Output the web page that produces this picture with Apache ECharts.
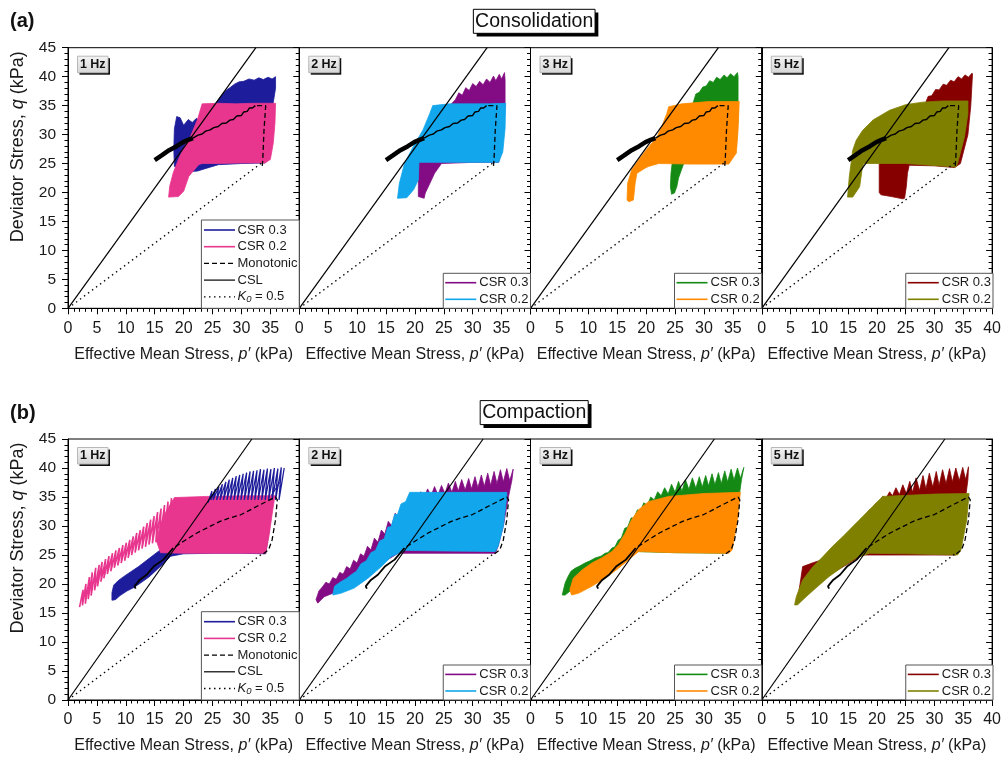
<!DOCTYPE html>
<html>
<head>
<meta charset="utf-8">
<script src="https://cdn.jsdelivr.net/npm/echarts@6/dist/echarts.min.js"></script>
<style>
html,body{margin:0;padding:0;background:#fff;}
#chart{width:1004px;height:761px;}
</style>
</head>
<body>
<div id="chart"></div>
<script>
// ---------- data (p', q in kPa) ----------
const FREQS = ['1 Hz', '2 Hz', '3 Hz', '5 Hz'];
const ROW_TITLES = ['Consolidation', 'Compaction'];
const ROW_TAGS = ['(a)', '(b)'];
const X_TICKS = [0, 5, 10, 15, 20, 25, 30, 35, 40];
const Y_TICKS = [0, 5, 10, 15, 20, 25, 30, 35, 40, 45];

const COLOR_CSR03 = ['#1d1d9c', '#830b83', '#148a14', '#860000'];
const COLOR_CSR02 = ['#e8368f', '#12a6ec', '#ff8a00', '#808000'];

// reference lines
const cslCons = [[0, 0], [32.5, 45]];
const cslComp = [[0, 0], [31.8, 45]];
const k0Cons = [[0, 0], [33.5, 25.1]];
const k0Comp = [[0, 0], [33.7, 25.3]];

// monotonic path, consolidated specimens
const consMonoDash = [[33.6, 24.6], [33.7, 25.9], [33.9, 30.7], [34.2, 35.0], [32.4, 35.0]];
const consMonoStep = [[32.4, 35.0], [31.9, 34.6], [31.4, 34.6], [31.0, 34.0], [30.4, 33.9], [30.0, 33.3],
  [29.2, 33.2], [28.6, 32.6], [28.0, 32.5], [27.4, 32.0], [26.6, 31.9], [26.0, 31.4], [25.2, 31.2],
  [24.6, 30.8], [23.8, 30.6], [23.2, 30.1], [22.5, 29.9], [21.6, 29.4]];
const consMonoTail = [[21.6, 29.4], [20.8, 29.1], [19.9, 28.7], [18.8, 28.0], [17.5, 27.3], [16.2, 26.4], [15.0, 25.6]];

// monotonic path, compacted specimens
const compMonoDash = [[33.8, 25.2], [34.7, 25.9], [35.3, 27.6], [35.9, 31.1], [36.2, 34.5], [35.9, 35.0],
  [34.3, 34.2], [32.7, 33.4], [31.2, 32.6], [29.8, 31.9], [28.0, 31.4], [26.3, 30.8], [24.3, 29.8],
  [22.3, 28.8], [20.2, 27.5], [18.2, 26.2]];
const compMonoSolid = [[18.2, 26.2], [16.5, 24.2], [14.8, 23.0], [13.6, 21.6], [12.4, 20.7], [11.9, 20.1],
  [11.5, 19.6], [11.7, 19.2]];

// cyclic stress-path envelopes, consolidated specimens
const cons1Hz_csr03 = [[35.9, 40.0], [35.3, 39.6], [34.6, 39.9], [33.8, 39.5], [33.0, 39.8], [32.2, 39.4],
  [31.3, 39.6], [30.4, 39.2], [29.6, 39.1], [28.8, 38.7], [28.0, 38.1], [27.3, 37.6], [26.6, 36.8],
  [26.0, 36.0], [25.4, 35.2], [24.5, 34.4], [23.6, 33.4], [22.8, 32.4], [22.2, 32.8], [21.5, 32.1],
  [20.8, 32.6], [20.0, 31.6], [19.4, 32.9], [18.8, 33.1], [18.4, 31.0], [18.3, 27.5], [18.4, 24.5],
  [19.5, 23.9], [21.0, 23.6], [22.4, 23.7], [24.0, 24.2], [26.0, 24.8], [30.0, 25.0], [34.1, 25.1],
  [34.8, 28.0], [35.2, 31.0], [35.5, 35.5], [35.9, 38.0]];
const cons1Hz_csr02 = [[23.2, 35.3], [26.0, 35.4], [29.0, 35.3], [32.0, 35.4], [35.9, 35.4], [35.8, 32.0],
  [35.5, 28.5], [35.0, 25.7], [34.1, 25.1], [30.0, 25.1], [26.0, 25.0], [23.2, 25.0], [22.6, 24.8],
  [20.9, 22.8], [20.0, 20.2], [19.1, 19.3], [17.4, 19.2], [17.6, 21.1], [18.2, 23.4], [19.1, 25.7],
  [20.0, 27.7], [21.2, 29.7], [22.4, 32.6]];

const cons2Hz_csr03 = [[35.5, 40.7], [35.0, 39.6], [34.6, 40.4], [34.0, 39.3], [33.6, 40.1], [33.0, 39.0],
  [32.4, 39.6], [31.8, 38.6], [31.2, 39.2], [30.6, 38.3], [30.0, 38.8], [29.4, 37.6], [28.8, 38.1],
  [28.2, 36.8], [27.6, 37.2], [27.0, 36.0], [26.4, 35.4], [24.5, 33.0], [22.5, 30.0], [21.0, 27.0],
  [20.6, 25.0], [20.6, 19.3], [21.6, 19.0], [21.8, 19.9], [22.6, 21.6], [23.4, 23.3], [24.6, 25.0],
  [30.0, 25.2], [34.5, 25.2], [35.3, 30.0], [35.6, 35.0], [35.6, 39.5]];
const cons2Hz_csr02 = [[23.1, 35.0], [26.0, 35.3], [30.0, 35.3], [33.0, 35.3], [35.7, 35.4], [35.6, 31.0],
  [35.2, 27.0], [34.5, 25.2], [30.0, 25.2], [25.0, 25.2], [20.7, 25.2], [20.6, 22.2], [19.8, 20.5],
  [18.6, 19.1], [17.0, 19.0], [17.3, 21.5], [18.2, 25.0], [19.7, 27.9], [21.4, 30.8], [22.6, 33.7]];

const cons3Hz_csr03 = [[35.8, 40.7], [35.2, 40.0], [34.6, 40.5], [34.0, 39.8], [33.5, 40.3], [32.8, 39.5],
  [32.2, 39.9], [31.6, 39.0], [31.0, 39.3], [30.4, 38.4], [29.8, 38.2], [29.2, 37.3], [28.6, 37.0],
  [28.2, 35.7], [26.5, 32.0], [25.0, 28.0], [24.5, 25.0], [24.3, 23.3], [24.2, 21.0], [24.4, 19.7],
  [24.9, 19.9], [25.3, 21.0], [25.6, 22.5], [26.1, 23.9], [26.5, 25.0], [30.0, 25.0], [34.3, 25.0],
  [35.6, 28.0], [35.9, 33.0], [35.9, 40.0]];
const cons3Hz_csr02 = [[23.9, 34.8], [26.2, 35.3], [30.8, 35.7], [36.1, 35.7], [35.9, 30.8], [35.6, 26.8],
  [34.3, 24.9], [30.0, 24.9], [27.8, 24.9], [22.2, 25.0], [20.4, 24.5], [19.8, 24.2], [18.4, 23.3],
  [18.1, 21.6], [17.8, 18.7], [17.0, 18.4], [16.7, 18.7], [16.8, 21.6], [17.5, 23.9], [18.7, 25.6],
  [19.6, 26.8], [20.7, 28.2], [21.9, 29.6], [22.7, 31.4], [23.6, 33.7]];

const cons5Hz_csr03 = [[36.5, 40.6], [35.9, 39.9], [35.3, 40.3], [34.7, 39.6], [34.1, 40.0], [33.4, 39.1],
  [32.8, 39.4], [32.1, 38.5], [31.5, 38.7], [30.8, 37.7], [30.2, 37.8], [29.5, 36.7], [28.9, 36.6],
  [28.5, 35.6], [26.0, 32.0], [22.0, 27.0], [20.4, 25.0], [20.4, 20.0], [20.7, 19.6], [22.5, 19.3],
  [24.5, 18.9], [24.8, 19.0], [25.1, 21.0], [25.3, 23.3], [25.6, 24.7], [30.0, 24.6], [33.5, 24.3],
  [34.5, 25.0], [35.8, 30.0], [36.3, 35.0], [36.6, 40.5]];
const cons5Hz_csr02 = [[35.8, 35.8], [31.4, 35.8], [28.0, 35.6], [25.1, 35.2], [22.2, 34.2], [19.3, 32.5],
  [17.5, 30.7], [16.4, 29.0], [15.8, 27.3], [15.5, 25.0], [15.2, 22.7], [14.9, 19.2], [15.8, 19.2],
  [17.0, 21.0], [17.4, 23.8], [17.7, 25.0], [25.0, 25.0], [33.7, 24.4], [34.0, 25.0], [35.2, 29.6],
  [35.8, 33.6]];

// cyclic stress-path envelopes, compacted specimens
const comp1Hz_csr03 = [[36.6, 37.5], [35.0, 35.0], [30.0, 35.0], [25.0, 35.0], [23.0, 34.0], [20.5, 31.0],
  [18.8, 28.5], [17.3, 27.0], [16.0, 25.9], [14.8, 25.0], [13.5, 24.0], [12.2, 23.0], [11.0, 22.2],
  [9.8, 21.4], [8.7, 20.6], [7.9, 19.8], [7.6, 18.5], [7.6, 17.2], [8.2, 17.3], [9.0, 18.0],
  [10.2, 18.8], [11.4, 19.4], [12.6, 20.2], [14.0, 21.2], [15.2, 22.3], [16.5, 23.5], [17.8, 24.8],
  [20.0, 25.2], [25.0, 25.3], [30.0, 25.3], [34.2, 25.2], [34.8, 29.3], [35.1, 35.1]];
// individual load cycles above the CSR 0.2 band (1 Hz, compacted)
const comp1Hz_csr03_cycles = [[37.4, 40.0], [36.5, 34.5], [36.9, 40.1], [35.9, 34.5], [36.3, 39.9],
  [35.3, 34.5], [35.7, 40.0], [34.7, 34.5], [35.1, 39.8], [34.1, 34.5], [34.5, 39.9], [33.5, 34.5],
  [33.9, 39.7], [32.9, 34.5], [33.3, 39.8], [32.3, 34.5], [32.7, 39.6], [31.7, 34.5], [32.1, 39.5],
  [31.1, 34.5], [31.5, 39.4], [30.5, 34.5], [30.9, 39.2], [29.9, 34.5], [30.3, 39.0], [29.3, 34.5],
  [29.7, 38.8], [28.7, 34.5], [29.1, 38.6], [28.1, 34.5], [28.5, 38.3], [27.5, 34.5], [27.9, 38.0],
  [26.9, 34.5], [27.3, 37.6], [26.3, 34.5], [26.7, 37.2], [25.7, 34.5], [26.1, 36.8], [25.1, 34.5],
  [25.5, 36.4], [24.7, 34.5], [24.9, 36.0], [24.2, 34.0]];
const comp1Hz_csr02 = [[36.0, 35.2], [30.0, 35.2], [24.0, 35.1], [18.4, 34.9], [17.0, 32.6], [15.9, 30.0],
  [15.3, 27.4], [16.0, 25.4], [20.0, 25.3], [25.0, 25.3], [30.0, 25.3], [34.2, 25.3], [34.8, 28.5],
  [35.3, 32.0], [35.7, 34.6]];
// individual load cycles at low p' (1 Hz, compacted)
const comp1Hz_csr02_cycles = [[2.0, 16.0], [2.6, 19.0], [2.5, 16.3], [3.1, 20.0], [3.0, 16.6], [3.7, 21.2],
  [3.5, 17.4], [4.2, 22.0], [4.0, 18.0], [4.8, 22.8], [4.6, 18.9], [5.4, 23.3], [5.1, 19.6], [5.9, 23.8],
  [5.7, 20.4], [6.5, 24.3], [6.2, 21.0], [7.1, 24.8], [6.8, 21.7], [7.7, 25.3], [7.4, 22.2], [8.3, 25.8],
  [8.0, 22.8], [8.9, 26.2], [8.6, 23.2], [9.5, 26.7], [9.2, 23.6], [10.1, 27.1], [9.8, 24.0], [10.7, 27.6],
  [10.4, 24.5], [11.3, 28.2], [11.0, 25.0], [11.9, 28.8], [11.6, 25.4], [12.5, 29.3], [12.2, 25.8],
  [13.1, 29.9], [12.8, 26.1], [13.7, 30.5], [13.4, 26.4], [14.3, 31.1], [14.0, 26.8], [14.9, 31.7],
  [14.6, 27.0], [15.5, 32.4], [15.2, 27.2], [16.1, 33.0], [15.8, 27.0], [16.7, 33.6], [16.4, 26.5],
  [17.3, 34.2], [17.0, 26.0], [17.9, 34.8]];

const comp2Hz_csr03 = [[37.0, 39.8], [36.4, 37.8], [35.9, 39.9], [35.3, 37.6], [34.8, 39.7], [34.2, 37.3],
  [33.7, 39.4], [33.1, 37.0], [32.6, 39.1], [32.0, 36.8], [31.5, 38.8], [30.9, 36.6], [30.4, 38.5],
  [29.8, 36.4], [29.3, 38.2], [28.7, 36.2], [28.1, 38.0], [27.5, 36.0], [27.0, 37.7], [26.4, 35.8],
  [25.8, 37.4], [25.2, 35.6], [24.6, 37.0], [24.0, 35.3], [23.4, 36.8], [22.8, 35.2], [22.2, 36.4],
  [21.6, 34.8], [21.0, 35.9], [20.4, 34.2], [19.9, 35.2], [19.3, 33.4], [18.8, 34.3], [18.2, 32.5],
  [17.7, 33.4], [17.1, 31.4], [16.6, 32.2], [16.0, 30.0], [15.4, 30.8], [14.8, 28.6], [14.2, 29.3],
  [13.6, 27.2], [13.0, 27.9], [12.4, 25.9], [11.8, 26.5], [11.2, 24.8], [10.6, 25.2], [10.0, 23.6],
  [9.4, 24.1], [8.8, 22.6], [8.2, 23.0], [7.6, 21.7], [7.0, 22.0], [6.4, 20.8], [5.8, 21.1],
  [5.2, 20.0], [4.6, 20.3], [4.0, 19.5], [3.4, 18.8], [2.9, 17.3], [3.2, 16.7], [4.3, 17.8],
  [5.8, 18.4], [7.8, 19.3], [10.7, 20.7], [13.0, 22.4], [15.3, 24.2], [17.1, 25.3], [25.0, 25.3],
  [33.9, 25.3], [34.4, 26.5], [35.3, 30.0], [36.2, 35.1], [36.8, 38.0]];
const comp2Hz_csr02 = [[35.9, 35.8], [30.0, 35.8], [25.0, 35.8], [19.1, 35.8], [18.4, 34.2], [17.6, 33.8],
  [17.0, 32.0], [16.5, 32.0], [15.9, 29.9], [15.3, 29.8], [14.7, 27.8], [13.9, 27.4], [13.2, 25.8],
  [12.4, 25.4], [11.6, 24.0], [10.7, 23.5], [9.9, 22.2], [9.0, 21.6], [8.1, 20.9], [7.2, 20.4],
  [6.5, 19.9], [6.1, 19.6], [5.8, 18.1], [7.2, 18.4], [9.5, 19.3], [11.9, 21.0], [14.2, 23.0],
  [15.9, 24.7], [18.2, 25.8], [25.0, 25.7], [33.9, 25.6], [34.4, 26.5], [35.3, 29.9], [35.9, 35.1]];

const comp3Hz_csr03 = [[36.9, 40.1], [36.3, 38.2], [35.8, 40.0], [35.2, 37.9], [34.7, 39.8], [34.1, 37.6],
  [33.6, 39.5], [33.0, 37.3], [32.5, 39.2], [31.9, 37.1], [31.4, 39.0], [30.8, 36.9], [30.3, 38.7],
  [29.7, 36.7], [29.2, 38.5], [28.6, 36.5], [28.0, 38.3], [27.4, 36.3], [26.8, 38.0], [26.2, 36.0],
  [25.6, 37.7], [25.0, 35.8], [24.4, 37.2], [23.8, 35.5], [23.2, 36.6], [22.6, 35.2], [22.0, 35.9],
  [21.4, 34.5], [20.8, 35.0], [20.2, 33.6], [19.6, 34.0], [19.0, 32.6], [18.5, 32.8], [17.9, 31.4],
  [17.4, 31.4], [16.8, 29.8], [16.3, 29.6], [15.7, 27.9], [15.2, 27.6], [14.6, 26.4], [14.1, 26.2],
  [13.4, 25.4], [12.9, 25.3], [12.2, 24.8], [11.2, 24.5], [10.3, 24.0], [9.4, 23.6], [8.5, 23.1],
  [7.7, 22.7], [7.0, 22.2], [6.5, 21.3], [6.0, 20.2], [5.7, 19.0], [5.5, 18.1], [6.0, 18.1],
  [7.1, 19.0], [8.9, 20.1], [10.6, 21.3], [12.3, 22.4], [14.6, 23.9], [16.4, 25.0], [18.1, 25.6],
  [25.0, 25.4], [33.7, 25.3], [34.6, 25.9], [35.4, 30.0], [36.0, 34.5], [36.5, 38.0]];
const comp3Hz_csr02 = [[36.3, 35.8], [30.0, 35.6], [23.9, 35.1], [20.4, 34.2], [18.7, 32.8], [17.5, 31.1],
  [16.4, 28.8], [15.2, 26.8], [14.1, 25.6], [12.3, 24.5], [10.6, 23.6], [8.9, 22.4], [7.4, 21.0],
  [6.8, 19.0], [7.1, 18.1], [8.3, 18.4], [10.6, 19.6], [12.9, 21.0], [15.2, 22.7], [17.0, 24.2],
  [18.7, 25.6], [25.0, 25.4], [34.3, 25.3], [34.9, 25.9], [35.8, 31.1]];

const comp5Hz_csr03 = [[35.9, 40.2], [35.4, 38.0], [34.9, 40.1], [34.3, 37.8], [33.7, 40.0], [33.1, 37.6],
  [32.6, 39.9], [32.0, 37.3], [31.4, 39.7], [30.8, 37.0], [30.3, 39.4], [29.7, 36.7], [29.1, 39.1],
  [28.5, 36.4], [28.0, 38.7], [27.4, 36.1], [26.8, 38.3], [26.2, 35.8], [25.7, 37.7], [25.1, 35.6],
  [24.5, 37.1], [23.9, 35.4], [23.3, 36.6], [22.7, 35.2], [22.2, 35.9], [21.6, 34.8], [21.0, 35.1],
  [20.4, 34.0], [19.8, 33.9], [19.2, 32.8], [18.7, 32.8], [17.0, 30.5], [15.0, 28.3], [13.0, 26.2],
  [11.6, 24.8], [10.6, 24.2], [9.0, 23.7], [7.1, 23.0], [6.8, 21.0], [6.5, 19.0], [6.5, 18.7],
  [9.4, 20.7], [12.3, 21.9], [15.2, 23.6], [17.5, 25.0], [25.0, 25.0], [33.7, 25.0], [34.0, 25.6],
  [34.9, 31.1], [35.5, 35.7], [35.8, 38.0]];
const comp5Hz_csr02 = [[36.0, 35.6], [30.0, 35.5], [21.0, 35.1], [19.3, 33.4], [17.5, 31.6], [15.8, 29.9],
  [14.1, 28.2], [12.3, 26.5], [10.6, 24.7], [8.9, 23.0], [7.1, 20.7], [6.0, 17.8], [5.7, 16.4],
  [6.2, 16.4], [7.7, 17.8], [9.4, 19.3], [11.7, 21.3], [14.1, 23.0], [16.4, 24.5], [18.7, 25.3],
  [25.0, 25.2], [34.0, 25.0], [34.6, 25.9], [35.6, 31.1]];

const CSR03 = [[cons1Hz_csr03, cons2Hz_csr03, cons3Hz_csr03, cons5Hz_csr03],
               [comp1Hz_csr03, comp2Hz_csr03, comp3Hz_csr03, comp5Hz_csr03]];
const CSR02 = [[cons1Hz_csr02, cons2Hz_csr02, cons3Hz_csr02, cons5Hz_csr02],
               [comp1Hz_csr02, comp2Hz_csr02, comp3Hz_csr02, comp5Hz_csr02]];
const CYCLES03 = [[null, null, null, null], [comp1Hz_csr03_cycles, null, null, null]];
const CYCLES02 = [[null, null, null, null], [comp1Hz_csr02_cycles, null, null, null]];

// ---------- layout ----------
const FONT = '"Liberation Sans", Arial, Helvetica, sans-serif';
const PANEL_LEFT = 68, PANEL_W = 231.25;
const ROW_TOP = [47.7, 439], ROW_H = [260.6, 261];

const chart = echarts.init(document.getElementById('chart'), null, { renderer: 'canvas' });

const grids = [], xAxes = [], yAxes = [], rightAxes = [], series = [], graphics = [];

function polygon(verts, color, gi) {
  return {
    type: 'custom', coordinateSystem: 'cartesian2d', xAxisIndex: gi, yAxisIndex: gi,
    silent: true, animation: false,
    data: [[0, 0]],
    renderItem: (params, api) => ({
      type: 'polygon',
      shape: { points: verts.map(v => api.coord(v)) },
      style: { fill: color, stroke: color, lineWidth: 0.8 }
    })
  };
}
function line(data, gi, width, type, color) {
  return {
    type: 'line', xAxisIndex: gi, yAxisIndex: gi, data: data, symbol: 'none', silent: true,
    animation: false, lineStyle: { color: color || '#000', width: width, type: type, cap: 'butt' }
  };
}

for (let r = 0; r < 2; r++) {
  for (let c = 0; c < 4; c++) {
    const gi = r * 4 + c;
    const left = PANEL_LEFT + c * PANEL_W;
    grids.push({ left: left, top: ROW_TOP[r], width: PANEL_W, height: ROW_H[r],
      show: true, borderColor: '#000', borderWidth: 1, backgroundColor: 'transparent' });
    xAxes.push({
      type: 'value', gridIndex: gi, min: X_TICKS[0], max: X_TICKS[X_TICKS.length - 1],
      interval: X_TICKS[1] - X_TICKS[0],
      axisLine: { show: true, lineStyle: { color: '#000', width: 1 } },
      axisTick: { show: true, inside: false, length: 6, lineStyle: { color: '#000' } },
      minorTick: { show: true, splitNumber: 5, length: 3.5, lineStyle: { color: '#000' } },
      splitLine: { show: false },
      axisLabel: { show: true, fontFamily: FONT, fontSize: 16, color: '#1a1a1a', margin: 12,
        formatter: v => (c < 3 && v === 40) ? '' : String(v) },
      name: 'Effective Mean Stress, {i|p\u2032} (kPa)', nameLocation: 'middle', nameGap: 38,
      nameTextStyle: { fontFamily: FONT, fontSize: 16, color: '#1a1a1a',
        rich: { i: { fontStyle: 'italic', fontFamily: FONT, fontSize: 16, color: '#1a1a1a' } } }
    });
    yAxes.push({
      type: 'value', gridIndex: gi, min: Y_TICKS[0], max: Y_TICKS[Y_TICKS.length - 1],
      interval: Y_TICKS[1] - Y_TICKS[0], position: 'left',
      axisLine: { show: true, lineStyle: { color: '#000', width: 1 } },
      axisTick: { show: true, inside: false, length: 6, lineStyle: { color: '#000' } },
      minorTick: { show: true, splitNumber: 5, length: 3.5, lineStyle: { color: '#000' } },
      splitLine: { show: false },
      axisLabel: { show: c === 0, fontFamily: FONT, fontSize: 15.5, color: '#1a1a1a', margin: 12 }
    });

    const isCons = r === 0;
    series.push(polygon(CSR03[r][c], COLOR_CSR03[c], gi));
    if (CYCLES03[r][c]) series.push(line(CYCLES03[r][c], gi, 1.3, 'solid', COLOR_CSR03[c]));
    series.push(polygon(CSR02[r][c], COLOR_CSR02[c], gi));
    if (CYCLES02[r][c]) series.push(line(CYCLES02[r][c], gi, 1.6, 'solid', COLOR_CSR02[c]));
    if (isCons) {
      series.push(line(consMonoDash, gi, 1.3, [5, 3]));
      series.push(line(consMonoStep, gi, 1.4, 'solid'));
      series.push(line(consMonoTail, gi, 4.5, 'solid'));
    } else {
      series.push(line(compMonoDash, gi, 1.3, [5, 3]));
      series.push(line(compMonoSolid, gi, 1.8, 'solid'));
    }
    series.push(line(isCons ? cslCons : cslComp, gi, 1.2, 'solid'));
    series.push(line(isCons ? k0Cons : k0Comp, gi, 1.3, [1.5, 3.5]));

    // frequency tag
    const top = ROW_TOP[r], bottom = ROW_TOP[r] + ROW_H[r];
    graphics.push({ type: 'rect', shape: { x: left + 11.5, y: top + 10.5, width: 30.5, height: 16.5 },
      style: { fill: '#111' }, z: 100 });
    graphics.push({ type: 'rect', shape: { x: left + 9.5, y: top + 8.5, width: 30.5, height: 16.5 },
      style: { fill: new echarts.graphic.LinearGradient(0, 0, 0, 1,
        [{ offset: 0, color: '#f4f4f4' }, { offset: 1, color: '#d6d6d6' }]),
        stroke: '#b8b8b8', lineWidth: 1 }, z: 101 });
    graphics.push({ type: 'text', x: left + 24.75, y: top + 17, z: 102,
      style: { text: FREQS[c], fontFamily: FONT, fontWeight: 'bold', fontSize: 12.5, fill: '#111',
        align: 'center', verticalAlign: 'middle' } });

    // legend box
    const right = left + PANEL_W;
    if (c === 0) {
      const bx = left + 133.4, by = bottom - 88.3;
      graphics.push({ type: 'rect', shape: { x: bx, y: by, width: right - bx, height: 88.3 },
        style: { fill: '#fff', stroke: '#555', lineWidth: 1 }, z: 100 });
      const rows = [
        { t: 'CSR 0.3', col: COLOR_CSR03[c], dash: 'solid', w: 1.6 },
        { t: 'CSR 0.2', col: COLOR_CSR02[c], dash: 'solid', w: 1.6 },
        { t: 'Monotonic', col: '#000', dash: [5, 3], w: 1.2 },
        { t: 'CSL', col: '#000', dash: 'solid', w: 1.2 },
        { t: '{i|K}{s|0} = 0.5', col: '#000', dash: [1.5, 3.5], w: 1.3 }
      ];
      rows.forEach((it, k) => {
        const yy = by + 10 + k * 16.7;
        graphics.push({ type: 'line', shape: { x1: left + 136, y1: yy, x2: left + 167, y2: yy },
          style: { stroke: it.col, lineWidth: it.w, lineDash: it.dash }, z: 101 });
        graphics.push({ type: 'text', x: left + 169.5, y: yy, z: 101,
          style: { text: it.t, fontFamily: FONT, fontSize: 13, fill: '#1a1a1a', verticalAlign: 'middle',
            rich: { i: { fontStyle: 'italic', fontFamily: FONT, fontSize: 13, fill: '#1a1a1a' },
                    s: { fontStyle: 'italic', fontFamily: FONT, fontSize: 9.5, fill: '#1a1a1a', padding: [6, 0, 0, 0] } } } });
      });
    } else {
      const bx = left + 144, by = bottom - 35;
      graphics.push({ type: 'rect', shape: { x: bx, y: by, width: right - bx, height: 35 },
        style: { fill: '#fff', stroke: '#555', lineWidth: 1 }, z: 100 });
      [['CSR 0.3', COLOR_CSR03[c]], ['CSR 0.2', COLOR_CSR02[c]]].forEach((it, k) => {
        const yy = by + 9.4 + k * 16.6;
        graphics.push({ type: 'line', shape: { x1: left + 146, y1: yy, x2: left + 177, y2: yy },
          style: { stroke: it[1], lineWidth: 1.6 }, z: 101 });
        graphics.push({ type: 'text', x: left + 180, y: yy, z: 101,
          style: { text: it[0], fontFamily: FONT, fontSize: 13, fill: '#1a1a1a', verticalAlign: 'middle' } });
      });
    }
  }
  // right-hand frame ticks of the last panel
  rightAxes.push({
    type: 'value', gridIndex: r * 4 + 3, min: Y_TICKS[0], max: Y_TICKS[Y_TICKS.length - 1],
    interval: Y_TICKS[1] - Y_TICKS[0], position: 'right',
    axisLine: { show: true, lineStyle: { color: '#000' } },
    axisTick: { show: true, inside: true, length: 6, lineStyle: { color: '#000' } },
    minorTick: { show: true, splitNumber: 5, length: 3.5, lineStyle: { color: '#000' } },
    splitLine: { show: false }, axisLabel: { show: false }
  });

  // row tag, boxed row title and y-axis title
  const top = ROW_TOP[r];
  graphics.push({ type: 'text', x: 10, y: top - 26, z: 100,
    style: { text: ROW_TAGS[r], fontFamily: FONT, fontWeight: 'bold', fontSize: 20, fill: '#111',
      verticalAlign: 'middle' } });
  const tw = r === 0 ? 121.7 : 108;
  const tx = 534.2 - tw / 2, ty = top - 38.4;
  graphics.push({ type: 'rect', shape: { x: tx + 3.3, y: ty + 3.3, width: tw, height: 24 },
    style: { fill: '#000' }, z: 100 });
  graphics.push({ type: 'rect', shape: { x: tx, y: ty, width: tw, height: 24 },
    style: { fill: '#fff', stroke: '#000', lineWidth: 1 }, z: 101 });
  graphics.push({ type: 'text', x: 534.2, y: ty + 12.3, z: 102,
    style: { text: ROW_TITLES[r], fontFamily: FONT, fontSize: 19.5, fill: '#111',
      align: 'center', verticalAlign: 'middle' } });
  graphics.push({ type: 'text', x: 18, y: top + 99, rotation: Math.PI / 2, z: 100,
    style: { text: 'Deviator Stress, {i|q} (kPa)', fontFamily: FONT, fontSize: 18, fill: '#1a1a1a',
      align: 'center', verticalAlign: 'middle',
      rich: { i: { fontStyle: 'italic', fontFamily: FONT, fontSize: 18, fill: '#1a1a1a' } } } });
}

chart.setOption({
  animation: false,
  backgroundColor: '#fff',
  grid: grids,
  xAxis: xAxes,
  yAxis: yAxes.concat(rightAxes),
  series: series,
  graphic: { elements: graphics }
});
</script>
</body>
</html>
